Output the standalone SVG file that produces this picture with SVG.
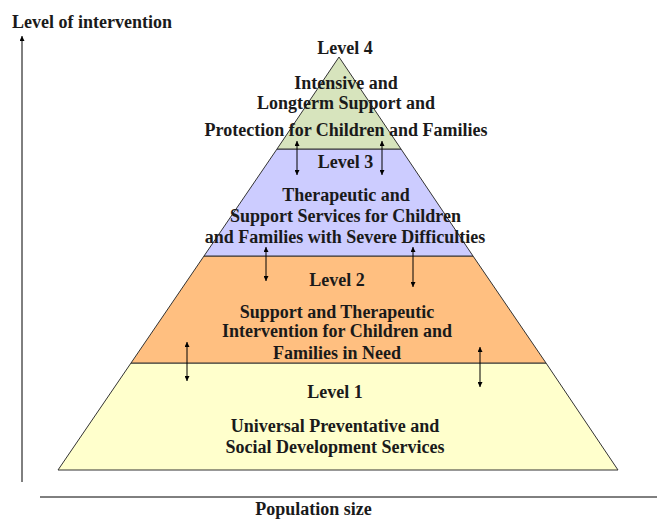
<svg xmlns="http://www.w3.org/2000/svg" width="657" height="520" viewBox="0 0 657 520">
<defs>
<marker id="ah" viewBox="0 0 10 10" refX="10" refY="5" markerWidth="5" markerHeight="5" orient="auto-start-reverse" markerUnits="userSpaceOnUse">
<path d="M0,0 L10,5 L0,10 z" fill="#000"/>
</marker>
<style>
text{font-family:"Liberation Serif","Times New Roman",serif;font-weight:bold;font-size:18px;fill:#1a1a1a;text-anchor:middle}
.lvl{stroke:#333;stroke-width:1}
.arr{stroke:#000;stroke-width:1;fill:none;marker-start:url(#ah);marker-end:url(#ah)}
</style>
</defs>
<rect width="657" height="520" fill="#fff"/>
<g id="axes">
<line x1="22" y1="482" x2="22" y2="36" stroke="#000" stroke-width="1" marker-end="url(#ah)"/>
<line x1="40" y1="497" x2="657" y2="497" stroke="#000" stroke-width="1"/>
<text x="12" y="27.5" style="text-anchor:start">Level of intervention</text>
<text x="313.5" y="515">Population size</text>
</g>
<g id="level1">
<polygon class="lvl" points="131,363 546,363 618,470 58,470" fill="#FFFFCC"/>
<text x="335" y="398">Level 1</text>
<text x="335" y="431.5">Universal Preventative and</text>
<text x="335" y="452.5">Social Development Services</text>
</g>
<g id="level2">
<polygon class="lvl" points="204,256 473,256 546,363 131,363" fill="#FFBF80"/>
<text x="337" y="286">Level 2</text>
<text x="337" y="318">Support and Therapeutic</text>
<text x="337" y="337">Intervention for Children and</text>
<text x="337" y="359">Families in Need</text>
</g>
<g id="level3">
<polygon class="lvl" points="277,149 401,149 473,256 204,256" fill="#CCCCFF"/>
<text x="345.5" y="168">Level 3</text>
<text x="346" y="201">Therapeutic and</text>
<text x="345.5" y="221.5">Support Services for Children</text>
<text x="345" y="242.5">and Families with Severe Difficulties</text>
</g>
<g id="level4">
<polygon class="lvl" points="339,57 401,149 277,149" fill="#D7E4BD"/>
<text x="345" y="54">Level 4</text>
<text x="346" y="89">Intensive and</text>
<text x="346" y="109">Longterm Support and</text>
<text x="346" y="136">Protection for Children and Families</text>
</g>
<g id="connectors">
<line class="arr" x1="297" y1="141" x2="297" y2="175"/>
<line class="arr" x1="382" y1="141" x2="382" y2="175"/>
<line class="arr" x1="266" y1="247" x2="266" y2="281"/>
<line class="arr" x1="413" y1="247" x2="413" y2="287"/>
<line class="arr" x1="187" y1="342" x2="187" y2="381"/>
<line class="arr" x1="480" y1="347" x2="480" y2="387"/>
</g>
</svg>
